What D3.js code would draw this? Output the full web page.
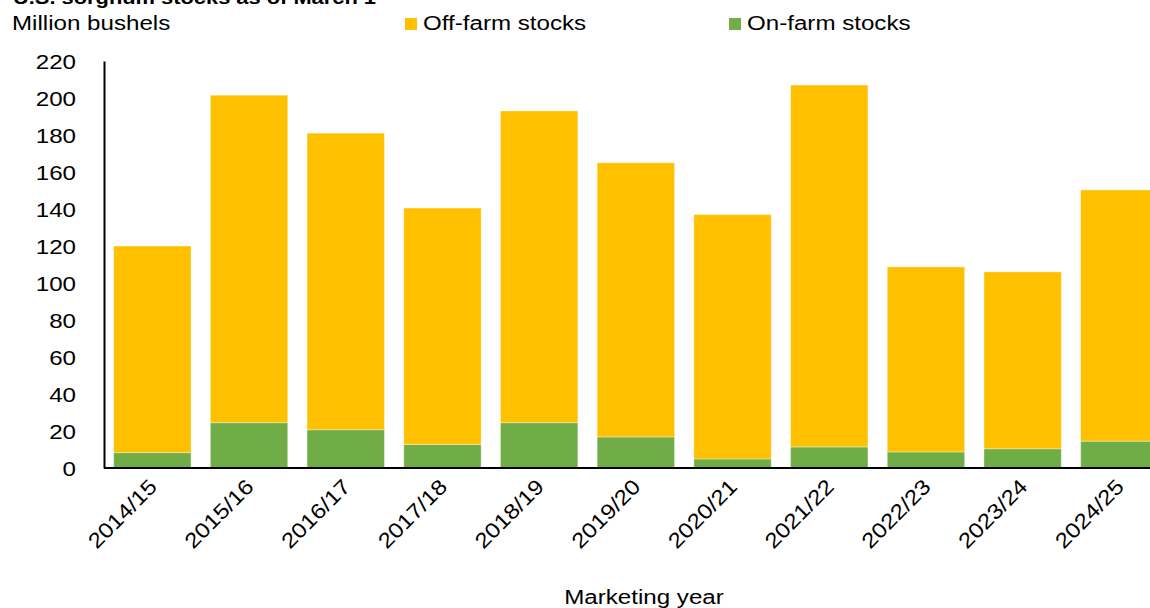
<!DOCTYPE html>
<html>
<head>
<meta charset="utf-8">
<script src="https://cdn.jsdelivr.net/npm/d3@7"></script>
<style>
    html, body { margin: 0; padding: 0; background: #fff; overflow: hidden; }
    text { font-family: Arial, "Liberation Sans", sans-serif; fill: #000; }
</style>
</head>
<body>
<svg id="chart" width="1150" height="608"></svg>
<script>
const years = ['2014/15', '2015/16', '2016/17', '2017/18', '2018/19', '2019/20',
    '2020/21', '2021/22', '2022/23', '2023/24', '2024/25'];
const onFarm = [8.3, 24.5, 20.7, 12.7, 24.5, 16.8, 4.9, 11.4, 8.7, 10.4, 14.5];
const offFarm = [111.7, 177.0, 160.3, 127.8, 168.5, 148.2, 132.1, 195.6, 100.0, 95.6, 135.8];
const yTicks = [0, 20, 40, 60, 80, 100, 120, 140, 160, 180, 200, 220];

const seriesKeys = ['onFarm', 'offFarm'];
const seriesNames = { offFarm: 'Off-farm stocks', onFarm: 'On-farm stocks' };
const colors = { offFarm: '#FFC000', onFarm: '#70AD47' };

const svg = d3.select('#chart');

// The source picture is stretched sideways, so text gets the same stretch
const stretch = 1.15;
const fontSize = '21px';

// Plot area runs off the right edge, like the original
const plotLeft = 104, plotTop = 61, plotBottom = 468;
const step = 96.7;
const plotRight = plotLeft + step * years.length;

const rows = years.map((y, i) => ({ year: y, onFarm: onFarm[i], offFarm: offFarm[i] }));
const stacked = d3.stack().keys(seriesKeys)(rows);

const x = d3.scaleBand()
    .domain(years)
    .range([plotLeft, plotRight])
    .paddingInner(0.2)
    .paddingOuter(0.1);

const y = d3.scaleLinear()
    .domain([0, 220])
    .range([plotBottom, plotTop]);

function addText(px, py, str, anchor) {
    return svg.append('text')
        .attr('transform', `translate(${px},${py}) scale(${stretch},1)`)
        .attr('text-anchor', anchor || 'start')
        .style('font-size', fontSize)
        .text(str);
}

// Title (cut off at the top)
addText(13, 4, 'U.S. sorghum stocks as of March 1')
    .style('font-size', '19px')
    .style('font-weight', 'bold');

addText(12, 30, 'Million bushels');

// Legend
const legendItems = [
    { key: 'offFarm', x: 405 },
    { key: 'onFarm', x: 729 }
];
legendItems.forEach(d => {
    svg.append('rect')
        .attr('x', d.x)
        .attr('y', 18)
        .attr('width', 12)
        .attr('height', 12)
        .attr('fill', colors[d.key]);
    addText(d.x + 18, 29.5, seriesNames[d.key]);
});

// Bars
svg.append('g')
    .selectAll('g')
    .data(stacked)
    .join('g')
    .attr('fill', d => colors[d.key])
    .selectAll('rect')
    .data(d => d)
    .join('rect')
    .attr('x', d => x(d.data.year))
    .attr('y', d => y(d[1]))
    .attr('width', x.bandwidth())
    .attr('height', d => y(d[0]) - y(d[1]))
    .attr('stroke', 'rgba(255,255,255,0.35)')
    .attr('stroke-width', 1);

// Y axis
const yAxis = svg.append('g')
    .attr('transform', `translate(${plotLeft},0)`)
    .call(d3.axisLeft(y).tickValues(yTicks).tickSize(0));
yAxis.select('.domain')
    .attr('stroke', '#000')
    .attr('stroke-width', 2);
yAxis.selectAll('.tick text')
    .attr('x', null)
    .attr('dy', '0.35em')
    .attr('transform', `translate(-28,0) scale(${stretch},1)`)
    .style('font-size', fontSize)
    .style('font-family', 'Arial, "Liberation Sans", sans-serif');

// X axis
const xAxis = svg.append('g')
    .attr('transform', `translate(0,${plotBottom})`)
    .call(d3.axisBottom(x).tickSize(0).tickSizeOuter(0));
xAxis.select('.domain')
    .attr('d', `M${plotLeft},0H${plotRight}`)
    .attr('stroke', '#000')
    .attr('stroke-width', 2);
xAxis.selectAll('.tick text')
    .attr('text-anchor', 'end')
    .attr('dy', null)
    .attr('y', 0)
    .attr('transform', `translate(6,20) rotate(-45) scale(${stretch},1)`)
    .style('font-size', fontSize)
    .style('font-family', 'Arial, "Liberation Sans", sans-serif');

addText(644, 604, 'Marketing year', 'middle');
</script>
</body>
</html>
